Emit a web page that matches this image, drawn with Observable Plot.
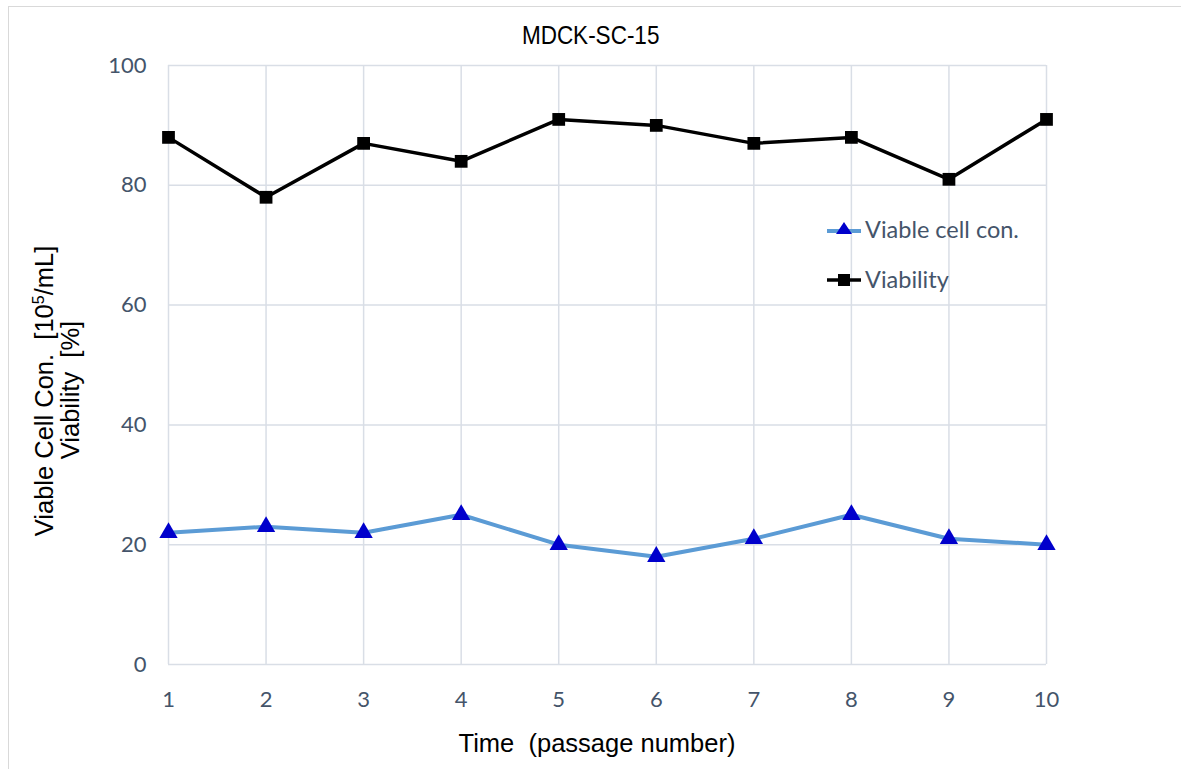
<!DOCTYPE html>
<html>
<head>
<meta charset="utf-8">
<script src="https://cdn.jsdelivr.net/npm/d3@7"></script>
<script src="https://cdn.jsdelivr.net/npm/@observablehq/plot@0.6"></script>
<style>
  html, body { margin: 0; padding: 0; background: #fff; }
  #wrap { position: relative; width: 1181px; height: 769px; overflow: hidden; background: #fff; }
  #frame { position: absolute; left: 8px; top: 6px; right: -2px; bottom: -2px; border-left: 1px solid #D9D9D9; border-top: 1px solid #D9D9D9; }
  #chart { position: absolute; left: 0; top: 0; }
  .title { position: absolute; left: 0; width: 1181px; top: 21px; text-align: center; font-family: "Liberation Sans", Arial, sans-serif; font-size: 25px; color: #000; transform: scaleX(0.9); transform-origin: 592px 0; }
  .xlabel { position: absolute; left: 0; width: 1194px; top: 729px; text-align: center; font-family: "Liberation Sans", Arial, sans-serif; font-size: 25.5px; color: #000; white-space: pre; }
  .ylabel { position: absolute; font-family: "Liberation Sans", Arial, sans-serif; font-size: 25.5px; color: #000; white-space: pre; transform: translate(-50%, -50%) rotate(-90deg); }
  .legend { position: absolute; left: 826px; font-family: Lato, "Open Sans", sans-serif; font-size: 23.5px; color: #44546A; display: flex; align-items: center; }
  .legend svg { margin-right: 2px; }
</style>
</head>
<body>
<div id="wrap">
  <div id="frame"></div>
  <div id="chart"></div>
  <div class="title">MDCK-SC-15</div>
  <div class="xlabel">Time  (passage number)</div>
  <div class="ylabel" style="left:44px; top:391px;">Viable Cell Con.  [10<sup style="font-size:16px; vertical-align: 9px; line-height:0">5</sup>/mL]</div>
  <div class="ylabel" style="left:70px; top:390px;">Viability  [%]</div>
  <div class="legend" style="top:215px;">
    <svg width="37" height="24"><line x1="1" y1="14" x2="35" y2="14" stroke="#5B9BD5" stroke-width="4"/><path d="M18,5 L26,17 L10,17 Z" fill="#0000CC"/></svg>
    <span>Viable cell con.</span>
  </div>
  <div class="legend" style="top:265px;">
    <svg width="37" height="24"><line x1="1" y1="13" x2="35" y2="13" stroke="#000" stroke-width="3.5"/><rect x="12" y="7" width="12" height="12" fill="#000"/></svg>
    <span>Viability</span>
  </div>
</div>
<script>
const passages = [1, 2, 3, 4, 5, 6, 7, 8, 9, 10];
const viableCellCon = [22, 23, 22, 25, 20, 18, 21, 25, 21, 20];
const viability = [88, 78, 87, 84, 91, 90, 87, 88, 81, 91];
const yTicks = [0, 20, 40, 60, 80, 100];

const cellData = passages.map((p, i) => ({ x: p, y: viableCellCon[i] }));
const viaData = passages.map((p, i) => ({ x: p, y: viability[i] }));

const plot = Plot.plot({
  width: 1181,
  height: 769,
  marginLeft: 168,
  marginRight: 135,
  marginTop: 65,
  marginBottom: 105,
  style: { background: "transparent", fontFamily: "Lato, 'Open Sans', sans-serif", fontSize: "22px", color: "#44546A", overflow: "visible" },
  x: { domain: [1, 10], ticks: passages, tickFormat: d => String(d), label: null, tickSize: 0, tickPadding: 27 },
  y: { domain: [0, 100], ticks: yTicks, label: null, tickSize: 0, tickPadding: 22 },
  marks: [
    Plot.ruleY(yTicks, { stroke: "#D9DEE6", strokeWidth: 1.5 }),
    Plot.ruleX(passages, { stroke: "#D9DEE6", strokeWidth: 1.5 }),
    Plot.line(cellData, { x: "x", y: "y", stroke: "#5B9BD5", strokeWidth: 4 }),
    Plot.dot(cellData, { x: "x", y: "y", symbol: "triangle", r: 6.8, fill: "#0000CC", stroke: "none" }),
    Plot.line(viaData, { x: "x", y: "y", stroke: "#000", strokeWidth: 3.5 }),
    Plot.dot(viaData, { x: "x", y: "y", symbol: "square", r: 7.2, fill: "#000", stroke: "none" })
  ]
});
plot.style.fill = "#44546A";
document.getElementById("chart").appendChild(plot);
</script>
</body>
</html>
